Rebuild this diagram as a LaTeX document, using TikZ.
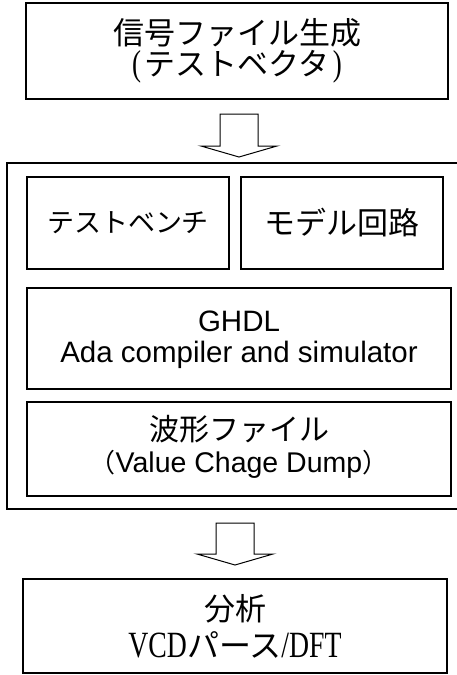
\documentclass[tikz,border=0pt]{standalone}
\usepackage{fontspec}
\newfontfamily\jp{Noto Sans CJK JP}
\newfontfamily\lsans{Liberation Sans}
\newfontfamily\mlat[FakeStretch=0.75]{Liberation Serif}
\newcommand{\fsz}[1]{\fontsize{#1pt}{#1pt}\selectfont}
\begin{document}
\begin{tikzpicture}[x=1pt,y=-1pt,
  box/.style={draw, line width=1.5pt, rectangle, inner sep=0pt},
  txt/.style={inner sep=0pt, anchor=base},
  arrowline/.style={draw, line width=1pt, line join=miter, fill=white}]
\useasboundingbox (0,0) rectangle (457,675);
\fill[white] (0,0) rectangle (457,675);

% boxes
\node[box, minimum width=422pt, minimum height=96pt] (gen) at (237,51) {};
\node[box, line width=1.8pt, minimum width=470pt, minimum height=346pt] (outer) at (242,336) {};
\node[box, minimum width=202pt, minimum height=92pt] (tb) at (128,223) {};
\node[box, minimum width=202pt, minimum height=92pt] (model) at (342,223) {};
\node[box, minimum width=424pt, minimum height=101pt] (ghdl) at (239,338.5) {};
\node[box, minimum width=424pt, minimum height=94pt] (wave) at (239,449) {};
\node[box, minimum width=424pt, minimum height=94pt] (ana) at (235,626) {};

% block arrows
\coordinate (ar1) at (239,114);
\coordinate (ar2) at (235,523);
\path[arrowline] (ar1) ++(-19,0) -- ++(38,0) -- ++(0,32) -- ++(19,0)
  -- ++(-38,11) -- ++(-38,-11) -- ++(19,0) -- cycle;
\path[arrowline] (ar2) ++(-19,0) -- ++(38,0) -- ++(0,31) -- ++(19,0)
  -- ++(-38,11) -- ++(-38,-11) -- ++(19,0) -- cycle;

% texts
\node[txt, font=\jp\fsz{31}] (genA) at (237,44) {信号ファイル生成};
\node[txt, font=\jp\fsz{31}] (genB) at (237,75)
  {\makebox[16pt][c]{\mlat\fsz{36}(}テストベクタ\makebox[16pt][c]{\mlat\fsz{36})}};
\node[txt, font=\jp\fsz{27}] (tbT) at (128,232) {テストベンチ};
\node[txt, font=\jp\fsz{31}] (modelT) at (342,234) {モデル回路};
\node[txt, font=\lsans\fsz{29.5}] (ghdlA) at (239,331) {GHDL};
\node[txt, font=\lsans\fsz{29.5}] (ghdlB) at (239,362) {Ada compiler and simulator};
\node[txt, font=\jp\fsz{30}] (waveA) at (239,440) {波形ファイル};
\node[txt, font=\jp\fsz{26}] (waveB) at (239,472) {（{\lsans\fsz{28.5}Value Chage Dump}）};
\node[txt, font=\jp\fsz{31}] (anaA) at (235,620) {分析};
\node[txt, font=\jp\fsz{32}] (anaB) at (235,657) {{\mlat\fsz{37}VCD}パース{\mlat\fsz{37}/DFT}};
\end{tikzpicture}
\end{document}
